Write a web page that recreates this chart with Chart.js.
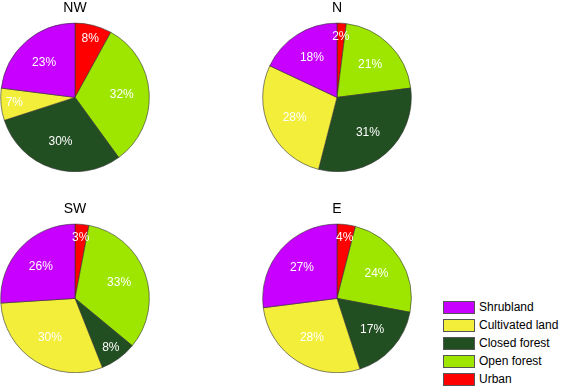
<!DOCTYPE html>
<html><head><meta charset="utf-8">
<script src="https://cdn.jsdelivr.net/npm/chart.js@4/dist/chart.umd.min.js"></script>
<style>
body{margin:0;background:#fff;width:563px;height:387px;position:relative;overflow:hidden;font-family:"Liberation Sans",Arial,sans-serif}
canvas{position:absolute}
#legend{position:absolute;left:443px;top:298px;font-size:12px;color:#000}
.row{height:18px;display:flex;align-items:center}
.box{width:32px;height:13px;border:1px solid #555;margin-right:4px;box-sizing:border-box}
</style></head><body>
<canvas id="c0" width="150" height="172" style="left:0px;top:0px"></canvas>
<canvas id="c1" width="150" height="172" style="left:262px;top:0px"></canvas>
<canvas id="c2" width="150" height="172" style="left:0px;top:201px"></canvas>
<canvas id="c3" width="150" height="172" style="left:262px;top:201px"></canvas>
<div id="legend"></div>
<script>
const categories = ["Urban","Open forest","Closed forest","Cultivated land","Shrubland"];
const colors = ["#ff0000","#9ee600","#224f22","#f2ee3a","#c800ff"];
const regions = ["NW","N","SW","E"];
const valuesNW = [8,32,30,7,23];
const valuesN  = [2,21,31,28,18];
const valuesSW = [3,33,8,30,26];
const valuesE  = [4,24,17,28,27];
const allValues = [valuesNW,valuesN,valuesSW,valuesE];
const legendOrder = ["Shrubland","Cultivated land","Closed forest","Open forest","Urban"];

const labelPlugin = {
  id:'pctLabels',
  afterDatasetsDraw(chart){
    const ctx = chart.ctx;
    const meta = chart.getDatasetMeta(0);
    const data = chart.data.datasets[0].data;
    ctx.save();
    ctx.fillStyle='#fff';
    ctx.font='12px "Liberation Sans", Arial, sans-serif';
    ctx.textAlign='center';ctx.textBaseline='middle';
    meta.data.forEach((arc,i)=>{
      const p = arc.getProps(['x','y','startAngle','endAngle','outerRadius'],true);
      const mid=(p.startAngle+p.endAngle)/2;
      const f = data[i] < 10 ? 0.82 : 0.63;
      const r = p.outerRadius*f;
      ctx.fillText(data[i]+'%', p.x+Math.cos(mid)*r, p.y+Math.sin(mid)*r);
    });
    ctx.restore();
  }
};

regions.forEach((reg,k)=>{
  new Chart(document.getElementById('c'+k),{
    type:'pie',
    data:{labels:categories,datasets:[{data:allValues[k],backgroundColor:colors,borderColor:'#333',borderWidth:0.6}]},
    options:{responsive:false,animation:false,
      layout:{padding:0},
      plugins:{legend:{display:false},tooltip:{enabled:false},
        title:{display:true,text:reg,color:'#000',font:{size:14,family:'"Liberation Sans", Arial, sans-serif',weight:'normal'},padding:{top:0,bottom:6}}}},
    plugins:[labelPlugin]
  });
});

const lg=document.getElementById('legend');
legendOrder.forEach(name=>{
  const i=categories.indexOf(name);
  const row=document.createElement('div');row.className='row';
  const b=document.createElement('div');b.className='box';b.style.background=colors[i];
  const t=document.createElement('span');t.textContent=name;
  row.appendChild(b);row.appendChild(t);lg.appendChild(row);
});
</script>
</body></html>
